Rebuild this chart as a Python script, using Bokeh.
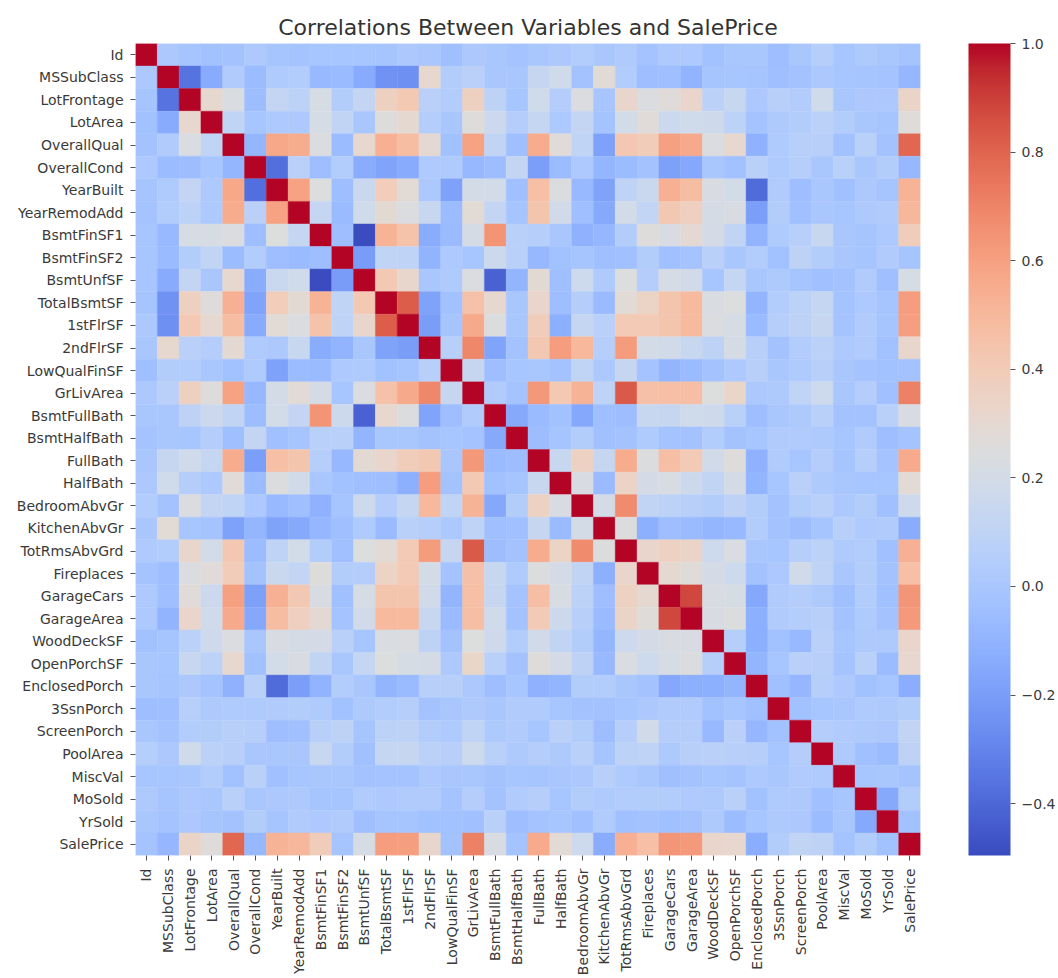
from math import pi
import numpy as np
from bokeh.embed import file_html
from bokeh.resources import INLINE
from bokeh.plotting import figure
from bokeh.models import ColumnDataSource, LinearColorMapper, ColorBar, FixedTicker, BoxAnnotation
from bokeh.transform import transform

variables = ["Id","MSSubClass","LotFrontage","LotArea","OverallQual","OverallCond","YearBuilt","YearRemodAdd",
             "BsmtFinSF1","BsmtFinSF2","BsmtUnfSF","TotalBsmtSF","1stFlrSF","2ndFlrSF","LowQualFinSF","GrLivArea",
             "BsmtFullBath","BsmtHalfBath","FullBath","HalfBath","BedroomAbvGr","KitchenAbvGr","TotRmsAbvGrd",
             "Fireplaces","GarageCars","GarageArea","WoodDeckSF","OpenPorchSF","EnclosedPorch","3SsnPorch",
             "ScreenPorch","PoolArea","MiscVal","MoSold","YrSold","SalePrice"]

r_id = [.011,-.011,-.033,-.028,.013,-.013,-.022,-.005,-.006,-.008,-.015,.010,.006,-.044,.008,.002,-.020,.006,.007,.038,.003,.027,-.020,.017,.018,-.030,-.001,.003,-.047,.001,.057,-.006,.021,.001,-.022]
r_mssub = [-.357,-.140,.033,-.059,.028,.041,-.070,-.066,-.141,-.239,-.252,.308,.046,.075,.003,-.002,.132,.177,-.023,.282,.040,-.046,-.040,-.099,-.013,-.006,-.012,-.044,-.026,.008,-.008,-.014,-.021,-.084]
r_lotf = [.306,.234,-.053,.118,.083,.215,.043,.122,.364,.414,.072,.037,.368,.091,-.007,.180,.049,.237,-.005,.320,.235,.270,.324,.077,.137,.010,.062,.038,.181,.001,.010,.007,.335]
r_lota = [.106,-.006,.014,.014,.214,.111,-.003,.261,.299,.051,.005,.263,.158,.048,.126,.014,.120,-.018,.190,.271,.155,.180,.172,.085,-.018,.020,.043,.078,.038,.001,-.014,.264]
r_oq = [-.092,.572,.551,.240,-.059,.308,.538,.476,.295,-.030,.593,.111,-.040,.551,.273,.102,-.184,.427,.397,.601,.562,.239,.309,-.114,.030,.065,.065,-.031,.071,-.027,.791]
r_oc = [-.376,.074,-.046,.040,-.137,-.171,-.144,.029,.025,-.080,-.055,.118,-.194,-.061,.013,-.087,-.058,-.024,-.186,-.152,-.003,-.033,.070,.026,.055,-.002,.069,-.004,.044,-.078]
r_yb = [.593,.250,-.049,.149,.391,.282,.010,-.184,.199,.188,-.038,.468,.243,-.071,-.175,.096,.148,.538,.479,.225,.189,-.387,.031,-.050,.005,-.034,.012,-.014,.523]
r_yr = [.128,-.068,.181,.291,.240,.140,-.062,.287,.119,-.012,.439,.183,-.041,-.150,.192,.113,.421,.372,.206,.226,-.194,.045,-.039,.006,-.010,.021,.036,.507]
r_bf1 = [-.050,-.495,.522,.446,-.137,-.065,.208,.649,.067,.059,.004,-.107,-.081,.044,.260,.224,.297,.204,.112,-.102,.026,.062,.141,.004,-.016,.014,.386]
r_bf2 = [-.209,.105,.097,-.099,.015,-.010,.159,.071,-.076,-.032,-.016,-.041,-.035,.047,-.038,-.018,.068,.003,.037,-.030,.089,.042,.005,-.015,.032,-.011]
r_bu = [.415,.318,.004,.028,.240,-.423,-.096,.289,-.041,.167,.030,.251,.052,.214,.183,-.005,.129,-.003,.020,-.013,-.035,-.024,.035,-.041,.214]
r_tb = [.820,-.175,-.033,.455,.307,-.000,.324,-.049,.050,-.069,.286,.340,.435,.487,.232,.247,-.095,.037,.084,.126,-.018,.013,-.015,.614]
r_1st = [-.203,-.014,.566,.245,.002,.381,-.120,.128,.068,.409,.405,.439,.490,.235,.212,-.065,.056,.089,.132,-.021,.031,-.014,.606]
r_2nd = [.063,.688,-.170,-.024,.421,.609,.503,.059,.616,.195,.184,.138,.092,.208,.062,-.024,.041,.081,.016,.035,-.029,.319]
r_lq = [.135,-.047,-.006,-.000,-.027,.106,.008,.131,-.021,-.094,-.068,-.025,.018,.061,-.004,.027,.062,-.004,-.022,-.029,-.026]
r_gla = [.035,-.019,.630,.415,.521,.100,.825,.462,.467,.469,.247,.330,.009,.021,.102,.170,-.002,.050,-.037,.709]
r_bfb = [-.148,-.065,-.031,-.151,-.042,-.053,.138,.132,.179,.175,.067,-.050,-.000,.023,.068,-.023,-.025,.067,.227]
r_bhb = [-.055,-.012,.047,-.038,-.024,.029,-.021,-.025,.040,-.025,-.008,.035,.032,.020,-.007,.033,-.047,-.017]
r_fb = [.136,.363,.133,.555,.244,.470,.406,.187,.259,-.115,.035,-.008,.050,-.014,.056,-.020,.561]
r_hb = [.227,-.068,.343,.204,.219,.164,.108,.200,-.095,-.005,.072,.022,.001,-.009,-.010,.284]
r_bed = [.199,.677,.108,.086,.065,.047,.094,.042,-.024,.044,.071,.008,.047,-.036,.168]
r_kit = [.256,-.124,-.051,-.064,-.090,-.070,.037,-.025,-.052,-.015,.062,.027,.032,-.136]
r_tr = [.326,.362,.338,.166,.234,.005,-.007,.059,.084,.025,.037,-.035,.534]
r_fp = [.301,.269,.200,.169,-.025,.011,.185,.095,.001,.046,-.024,.467]
r_gc = [.882,.226,.214,-.151,.036,.050,.021,-.043,.041,-.039,.640]
r_ga = [.225,.241,-.122,.035,.051,.061,-.027,.028,-.027,.623]
r_wd = [.059,-.126,-.033,-.074,.073,-.010,.021,.022,.324]
r_op = [-.093,-.006,.074,.061,-.018,.071,-.058,.316]
r_ep = [-.037,-.083,.054,.018,-.029,-.010,-.129]
r_3s = [-.031,-.008,.000,.029,.019,.045]
r_sp = [.051,.032,.023,.011,.111]
r_pa = [.030,-.034,-.060,.092]
r_mv = [-.006,.005,-.021]
r_ms = [-.146,.046]
r_ys = [-.029]
upper_rows = [r_id,r_mssub,r_lotf,r_lota,r_oq,r_oc,r_yb,r_yr,r_bf1,r_bf2,r_bu,r_tb,r_1st,r_2nd,r_lq,r_gla,r_bfb,
              r_bhb,r_fb,r_hb,r_bed,r_kit,r_tr,r_fp,r_gc,r_ga,r_wd,r_op,r_ep,r_3s,r_sp,r_pa,r_mv,r_ms,r_ys,[]]

colorbar_ticks = [-0.4,-0.2,0.0,0.2,0.4,0.6,0.8,1.0]
colorbar_labels = ["\u22120.4","\u22120.2","0.0","0.2","0.4","0.6","0.8","1.0"]
value_low, value_high = -0.4955, 1.0

# coolwarm colormap anchors
cw_r = [.2298,.2662,.3039,.3428,.3830,.4244,.4667,.5096,.5530,.5963,.6392,.6813,.7222,.7615,.7987,.8335,.8654,.8978,.9241,.9445,.9589,.9673,.9700,.9668,.9580,.9437,.9239,.8990,.8692,.8346,.7956,.7525,.7057]
cw_g = [.2987,.3531,.4065,.4588,.5094,.5581,.6046,.6483,.6889,.7261,.7596,.7890,.8140,.8343,.8498,.8602,.8654,.8489,.8274,.8009,.7698,.7341,.6943,.6504,.6028,.5518,.4973,.4396,.3783,.3129,.2413,.1572,.0156]
cw_b = [.7537,.8015,.8450,.8837,.9174,.9456,.9682,.9848,.9954,.9998,.9982,.9904,.9766,.9569,.9317,.9011,.8654,.8209,.7745,.7267,.6780,.6288,.5794,.5303,.4818,.4342,.3880,.3432,.3003,.2593,.2205,.1841,.1502]
t0 = np.linspace(0, 1, 33)
t1 = np.linspace(0, 1, 256)
palette = ["#%02x%02x%02x" % tuple(int(round(255*np.interp(t, t0, c))) for c in (cw_r, cw_g, cw_b)) for t in t1]

n = len(variables)
xs, ys, vals = [], [], []
for i in range(n):
    for j in range(n):
        if i == j:
            v = 1.0
        elif j > i:
            v = upper_rows[i][j-i-1]
        else:
            v = upper_rows[j][i-j-1]
        xs.append(variables[j]); ys.append(variables[i]); vals.append(v)
source = ColumnDataSource(dict(x=xs, y=ys, v=vals))

mapper = LinearColorMapper(palette=palette, low=value_low, high=value_high)

TEXT = "#3a3a3a"
TICK = "#555555"
p = figure(width=1058, height=978, x_range=variables, y_range=list(reversed(variables)),
           output_backend="svg", toolbar_location=None, tools="",
           min_border_left=135, min_border_top=43, min_border_bottom=122, min_border_right=138,
           title="Correlations Between Variables and SalePrice")
p.rect("x", "y", width=1, height=1, source=source,
       fill_color=transform("v", mapper), line_color=transform("v", mapper), line_width=0.4)

p.title.align = "center"
p.title.text_font = "DejaVu Sans"
p.title.text_font_style = "normal"
p.title.text_font_size = "22px"
p.title.text_color = "#333333"
p.title.standoff = 7

# faint grey band along the top edge of the screenshot
for k, shade in enumerate(["#f2f2f2", "#f5f5f5", "#f8f8f8", "#fbfbfb", "#fdfdfd"]):
    p.add_layout(BoxAnnotation(left=6, right=1058, top=7+4*k, bottom=11+4*k,
                               left_units="screen", right_units="screen",
                               top_units="screen", bottom_units="screen",
                               fill_color=shade, fill_alpha=1, line_color=None, level="underlay"))

p.grid.visible = False
p.outline_line_color = None
for ax in (p.xaxis[0], p.yaxis[0]):
    ax.axis_line_color = None
    ax.major_tick_line_color = TICK
    ax.major_tick_line_width = 1
    ax.major_tick_out = 5
    ax.major_tick_in = 0
    ax.major_label_text_font = "DejaVu Sans"
    ax.major_label_text_font_size = "14px"
    ax.major_label_text_color = TEXT
    ax.major_label_standoff = 7
p.xaxis[0].major_label_standoff = 8
p.xaxis[0].major_label_orientation = pi/2

cb = ColorBar(color_mapper=mapper, ticker=FixedTicker(ticks=colorbar_ticks),
              major_label_overrides=dict(zip(colorbar_ticks, colorbar_labels)),
              width=42, padding=0, margin=0, bar_line_color=None,
              major_tick_in=0, major_tick_out=5, major_tick_line_color=TICK,
              major_label_text_font="DejaVu Sans", major_label_text_font_size="14px",
              major_label_text_color=TEXT, label_standoff=6, location=(48, 0))
p.add_layout(cb, "right")

open("out.html", "w").write(file_html(p, INLINE))
